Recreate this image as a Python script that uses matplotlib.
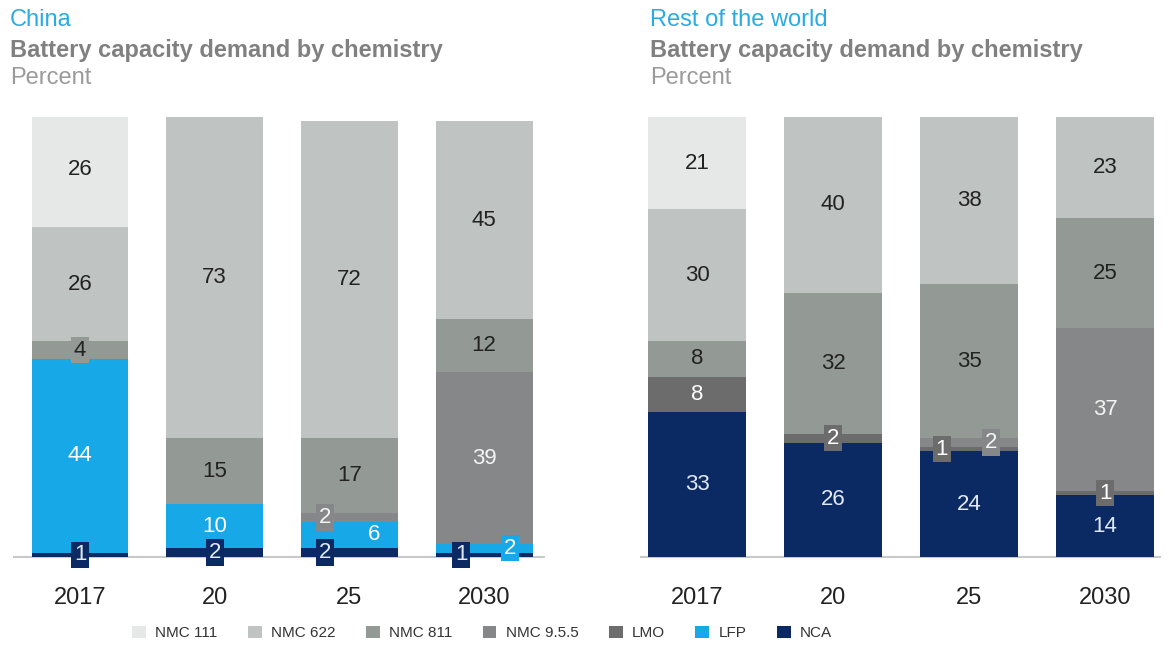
import numpy as np
import matplotlib
matplotlib.use('Agg')
import matplotlib.pyplot as plt
from matplotlib.patches import Patch

plt.rcParams['font.family'] = ['Liberation Sans', 'DejaVu Sans']

# Data (percent), stacked bottom -> top: NCA, LFP, LMO, NMC 9.5.5, NMC 811, NMC 622, NMC 111
years = ['2017', '20', '25', '2030']
series = ['NCA', 'LFP', 'LMO', 'NMC 9.5.5', 'NMC 811', 'NMC 622', 'NMC 111']
legend_order = ['NMC 111', 'NMC 622', 'NMC 811', 'NMC 9.5.5', 'LMO', 'LFP', 'NCA']

china_nca = [1, 2, 2, 1]
china_lfp = [44, 10, 6, 2]
china_lmo = [0, 0, 0, 0]
china_nmc955 = [0, 0, 2, 39]
china_nmc811 = [4, 15, 17, 12]
china_nmc622 = [26, 73, 72, 45]
china_nmc111 = [26, 0, 0, 0]

row_nca = [33, 26, 24, 14]
row_lfp = [0, 0, 0, 0]
row_lmo = [8, 2, 1, 1]
row_nmc955 = [0, 0, 2, 37]
row_nmc811 = [8, 32, 35, 25]
row_nmc622 = [30, 40, 38, 23]
row_nmc111 = [21, 0, 0, 0]

china = [china_nca, china_lfp, china_lmo, china_nmc955, china_nmc811, china_nmc622, china_nmc111]
row = [row_nca, row_lfp, row_lmo, row_nmc955, row_nmc811, row_nmc622, row_nmc111]

colors = {
    'NMC 111': '#e6e7e7',
    'NMC 622': '#bfc3c1',
    'NMC 811': '#939a96',
    'NMC 9.5.5': '#868788',
    'LMO': '#6c6c6c',
    'LFP': '#17a8e8',
    'NCA': '#0b2a64',
}
text_colors = {
    'NMC 111': '#222222',
    'NMC 622': '#222222',
    'NMC 811': '#222222',
    'NMC 9.5.5': '#f4f4f4',
    'LMO': '#ffffff',
    'LFP': '#ffffff',
    'NCA': '#e2eaf8',
}

# horizontal nudges for crowded small labels: (panel, series, bar) -> x offset
label_shift = {
    ('china', 'NCA', 2): -0.18, ('china', 'NMC 9.5.5', 2): -0.18, ('china', 'LFP', 2): 0.18,
    ('china', 'NCA', 3): -0.17, ('china', 'LFP', 3): 0.19,
    ('row', 'LMO', 2): -0.2, ('row', 'NMC 9.5.5', 2): 0.16,
}
# segments labelled without a box even though small
no_box = {('china', 'LFP', 2)}

W, H = 1169, 646
fig = plt.figure(figsize=(W / 100, H / 100), dpi=100)

base_px = 557
unit_px = 4.4


def make_ax(center0, spacing):
    left = center0 - 0.5 * spacing
    ax = fig.add_axes([left / W, (H - base_px) / H, 4 * spacing / W, 100 * unit_px / H])
    ax.set_xlim(-0.5, 3.5)
    ax.set_ylim(0, 100)
    ax.axis('off')
    return ax


def draw_panel(ax, data, name, line_span):
    x = np.arange(len(years))
    bottom = np.zeros(len(years))
    for s, vals in zip(series, data):
        vals = np.array(vals, dtype=float)
        ax.bar(x, vals, bottom=bottom, width=0.72, color=colors[s], edgecolor='none', zorder=2)
        for i, v in enumerate(vals):
            if v <= 0:
                continue
            cx = x[i] + label_shift.get((name, s, i), 0)
            cy = bottom[i] + v / 2
            kw = dict(ha='center', va='center', fontsize=16, color=text_colors[s], zorder=5, clip_on=False)
            if v <= 4 and (name, s, i) not in no_box:
                kw['bbox'] = dict(boxstyle='square,pad=0.12', fc=colors[s], ec='none')
            ax.text(cx, cy, f'{int(v)}', **kw)
        bottom += vals
    ax.hlines(0, line_span[0], line_span[1], color='#c9c9c9', lw=1.5, zorder=1, clip_on=False)
    for i, yl in enumerate(years):
        ax.annotate(yl, (x[i], 0), xytext=(0, -41), textcoords='offset pixels',
                    ha='center', va='center', fontsize=17, color='#222222')


ax1 = make_ax(80, 134.7)
draw_panel(ax1, china, 'china', (-0.5, 3.45))
ax2 = make_ax(697, 136)
draw_panel(ax2, row, 'row', (-0.42, 3.41))

# Titles
for xpx, region in [(10, 'China'), (650, 'Rest of the world')]:
    fig.text(xpx / W, 1 - 20 / H, region, color='#2aabe2', fontsize=17, va='center', ha='left')
    fig.text(xpx / W, 1 - 50 / H, 'Battery capacity demand by chemistry', color='#808080',
             fontsize=17, fontweight='bold', va='center', ha='left')
    fig.text(xpx / W, 1 - 78 / H, 'Percent', color='#9a9a9a', fontsize=17, va='center', ha='left')

handles = [Patch(facecolor=colors[s], edgecolor='none', label=s) for s in legend_order]
fig.legend(handles=handles, loc='center', bbox_to_anchor=(482 / W, 1 - 633 / H), ncol=7,
           frameon=False, fontsize=11, handlelength=0.9, handleheight=0.9,
           handletextpad=0.6, columnspacing=2.0, labelcolor='#333333')

fig.savefig('out.png', dpi=100)
